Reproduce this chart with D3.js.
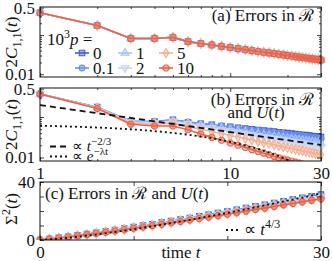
<!DOCTYPE html>
<html>
<head>
<meta charset="utf-8">
<script src="https://d3js.org/d3.v7.min.js"></script>
<style>
  body { margin: 0; background: #fff; }
  text { font-family: "Liberation Serif", serif; fill: #111; }
  .axis line { stroke: #111; stroke-width: 0.8px; }
  .axis text { font-size: 17px; font-family: "Liberation Serif", serif; }
</style>
</head>
<body>
<div id="chart"></div>
<script>
// ---- data ----
var times = [1,2,3,4,5,6,7,8,9,10,11,12,13,14,15,16,17,18,19,20,21,22,23,24,25,26,27,28,29,30];
var timesC = [0,1,2,3,4,5,6,7,8,9,10,11,12,13,14,15,16,17,18,19,20,21,22,23,24,25,26,27,28,29,30];

var pLabels = ["0", "0.1", "1", "2", "5", "10"];
var pColors = ["#3f5fd2", "#6d8fee", "#a3c2fb", "#c8d6ee", "#f6b092", "#e6644c"];
var pShapes = ["square", "circle", "triUp", "triDown", "diamond", "octagon"];

// (a) errors in R only -- all p curves coincide
var errR = [0.37,0.175,0.082,0.082,0.087,0.068,0.061,0.056,0.0515,0.048,0.045,0.0425,0.040,0.038,0.0365,
            0.035,0.0337,0.0323,0.0312,0.0301,0.0292,0.0282,0.0274,0.0267,0.026,0.0253,0.0247,0.0241,0.0236,0.023];

// (b) errors in R and U(t)
var errRU_p0   = [0.37,0.175,0.078,0.077,0.085,0.074,0.068,0.064,0.060,0.057,0.054,0.052,0.050,0.048,0.046,
                  0.045,0.044,0.042,0.041,0.040,0.039,0.038,0.037,0.036,0.036,0.035,0.034,0.033,0.033,0.032];
var errRU_p01  = [0.37,0.174,0.077,0.076,0.084,0.076,0.069,0.064,0.060,0.056,0.053,0.051,0.048,0.046,0.044,
                  0.043,0.041,0.040,0.039,0.037,0.036,0.035,0.035,0.034,0.033,0.032,0.031,0.031,0.030,0.029];
var errRU_p1   = [0.37,0.172,0.076,0.074,0.080,0.070,0.063,0.057,0.053,0.049,0.046,0.043,0.041,0.039,0.037,
                  0.0355,0.034,0.0326,0.0314,0.0303,0.0293,0.0283,0.0274,0.0266,0.0259,0.0252,0.0245,0.0239,0.0233,0.0228];
var errRU_p2   = [0.37,0.170,0.074,0.072,0.078,0.068,0.060,0.054,0.049,0.045,0.042,0.039,0.036,0.034,0.032,
                  0.0305,0.029,0.0277,0.0265,0.0254,0.0244,0.0235,0.0226,0.0218,0.0211,0.0204,0.0197,0.0191,0.0186,0.018];
var errRU_p5   = [0.37,0.166,0.070,0.066,0.070,0.058,0.050,0.044,0.039,0.035,0.032,0.029,0.027,0.025,0.0233,
                  0.0219,0.0206,0.0194,0.0184,0.0175,0.0167,0.0159,0.0152,0.0146,0.014,0.0135,0.013,0.0125,0.0121,0.0117];
var errRU_p10  = [0.37,0.162,0.066,0.060,0.060,0.0485,0.038,0.0315,0.0266,0.0228,0.020,0.0176,0.0157,0.0141,0.0128,
                  0.0117,0.0107,0.0099,0.0092,0.0086,0.0081,0.0077,0.0073,0.0069,0.0065,0.0061,0.0058,0.0055,0.0052,0.0049];

// guide lines in (b)
var powT   = [1, 30];
var powVal = [0.197, 0.0204];          // ∝ t^{-2/3}
var expT   = [1, 5, 10, 15, 20, 25, 30];
var expVal = [0.061, 0.0405, 0.0243, 0.0146, 0.0088, 0.0053, 0.0032]; // ∝ e^{-λt}

// (c) Σ²(t)
var sig_p0  = [0,0.7,1.5,2.3,3.2,4.1,5.0,5.9,6.9,7.9,8.9,9.9,10.9,12.0,13.1,14.1,15.2,16.3,17.4,18.6,19.7,20.8,22.0,23.2,24.3,25.5,26.7,27.9,29.1,30.2,31.3];
var sig_p01 = [0,0.7,1.5,2.3,3.2,4.0,4.9,5.8,6.8,7.8,8.8,9.8,10.7,11.8,12.9,13.9,15.0,16.1,17.1,18.3,19.4,20.5,21.7,22.9,23.9,25.1,26.3,27.5,28.7,29.7,30.8];
var sig_p1  = [0,0.7,1.4,2.2,3.1,4.0,4.8,5.7,6.7,7.6,8.6,9.6,10.5,11.6,12.6,13.6,14.7,15.7,16.8,17.9,19.0,20.1,21.2,22.4,23.4,24.6,25.8,26.9,28.1,29.1,30.2];
var sig_p2  = [0,0.7,1.4,2.2,3.0,3.9,4.7,5.6,6.5,7.5,8.4,9.4,10.3,11.3,12.4,13.3,14.4,15.4,16.4,17.6,18.6,19.7,20.8,21.9,23.0,24.1,25.2,26.4,27.5,28.5,29.6];
var sig_p5  = [0,0.6,1.4,2.1,3.0,3.8,4.6,5.5,6.4,7.3,8.2,9.2,10.1,11.1,12.1,13.0,14.1,15.1,16.1,17.2,18.2,19.2,20.4,21.5,22.5,23.6,24.7,25.8,26.9,27.9,29.0];
var sig_p10 = [0,0.6,1.4,2.1,2.9,3.7,4.5,5.3,6.2,7.1,8.1,9.0,9.9,10.9,11.9,12.8,13.8,14.8,15.7,16.8,17.8,18.8,19.9,21.0,22.0,23.1,24.2,25.2,26.3,27.3,28.3];
var powCT  = [0,2,4,6,8,10,12,14,16,18,20,22,24,26,28,30];
var powCV  = [0,0.87,2.19,3.76,5.52,7.42,9.49,11.7,13.9,16.3,18.7,21.3,23.9,26.6,29.3,32.2]; // ∝ t^{4/3}

var errRU = [errRU_p0, errRU_p01, errRU_p1, errRU_p2, errRU_p5, errRU_p10];
var sigAll = [sig_p0, sig_p01, sig_p1, sig_p2, sig_p5, sig_p10];

// ---- layout ----
var W = 332, H = 261;
var L = 40, R = 321;
var panA = {top: 7, bottom: 77};
var panB = {top: 88, bottom: 161};
var panC = {top: 182, bottom: 240};

var svg = d3.select("#chart").append("svg").attr("width", W).attr("height", H);

var xLog = d3.scaleLog().domain([1, 30]).range([L, R]);
var xLin = d3.scaleLinear().domain([0, 30]).range([L, R]);
var yA = d3.scaleLog().domain([0.0085, 0.52]).range([panA.bottom, panA.top]);
var yB = d3.scaleLog().domain([0.0082, 0.52]).range([panB.bottom, panB.top]);
var yC = d3.scaleLinear().domain([0, 40]).range([panC.bottom, panC.top]);

var xMajor = [1, 10, 30], xMinor = [2,3,4,5,6,7,8,9,20];
var yMajor = [0.01, 0.1, 0.5], yMinor = [0.02,0.03,0.04,0.05,0.06,0.07,0.08,0.09,0.2,0.3,0.4];

function octagon() {
  return {draw: function(ctx, size) {
    var r = Math.sqrt(size / 2.83);
    for (var i = 0; i < 8; i++) {
      var a = Math.PI / 8 + i * Math.PI / 4;
      if (i === 0) ctx.moveTo(r * Math.cos(a), r * Math.sin(a));
      else ctx.lineTo(r * Math.cos(a), r * Math.sin(a));
    }
    ctx.closePath();
  }};
}
function symbolPath(shape) {
  if (shape === "square") return d3.symbol(d3.symbolSquare, 30)();
  if (shape === "circle") return d3.symbol(d3.symbolCircle, 26)();
  if (shape === "triUp" || shape === "triDown") return d3.symbol(d3.symbolTriangle, 26)();
  if (shape === "diamond") return d3.symbol(d3.symbolDiamond, 26)();
  return d3.symbol(octagon(), 30)();
}
function symbolRot(shape) { return shape === "triDown" ? " rotate(180)" : ""; }

function frame(top, bottom) {
  svg.append("rect").attr("x", L).attr("y", top).attr("width", R - L).attr("height", bottom - top)
    .attr("fill", "none").attr("stroke", "#111").attr("stroke-width", 1);
}

function axes(x, y, top, bottom, xmaj, xmin, ymaj, ymin, xfmt, yfmt) {
  var g = svg.append("g").attr("class", "axis");
  g.append("g").attr("transform", "translate(0," + bottom + ")")
    .call(d3.axisBottom(x).tickValues(xmaj).tickSize(-4).tickPadding(6).tickFormat(xfmt));
  g.append("g").attr("transform", "translate(0," + bottom + ")")
    .call(d3.axisBottom(x).tickValues(xmin).tickSize(-2).tickFormat(""));
  g.append("g").attr("transform", "translate(0," + top + ")")
    .call(d3.axisTop(x).tickValues(xmaj).tickSize(-4).tickFormat(""));
  g.append("g").attr("transform", "translate(0," + top + ")")
    .call(d3.axisTop(x).tickValues(xmin).tickSize(-2).tickFormat(""));
  g.append("g").attr("transform", "translate(" + L + ",0)")
    .call(d3.axisLeft(y).tickValues(ymaj).tickSize(-4).tickPadding(5).tickFormat(yfmt));
  g.append("g").attr("transform", "translate(" + L + ",0)")
    .call(d3.axisLeft(y).tickValues(ymin).tickSize(-2).tickFormat(""));
  g.append("g").attr("transform", "translate(" + R + ",0)")
    .call(d3.axisRight(y).tickValues(ymaj).tickSize(-4).tickFormat(""));
  g.append("g").attr("transform", "translate(" + R + ",0)")
    .call(d3.axisRight(y).tickValues(ymin).tickSize(-2).tickFormat(""));
  g.selectAll(".domain").remove();
  return g;
}

function clip(id, top, bottom) {
  svg.append("clipPath").attr("id", id).append("rect")
    .attr("x", 0).attr("y", top).attr("width", W).attr("height", bottom - top);
}

function series(gp, xs, ys, x, y, k) {
  var pts = xs.map(function(t, i) { return [t, ys[i]]; });
  var line = d3.line().x(function(d) { return x(d[0]); }).y(function(d) { return y(d[1]); });
  gp.append("path").attr("d", line(pts)).attr("fill", "none")
    .attr("stroke", pColors[k]).attr("stroke-width", 1.6);
  gp.selectAll(null).data(pts).enter().append("path")
    .attr("d", symbolPath(pShapes[k]))
    .attr("transform", function(d) { return "translate(" + x(d[0]) + "," + y(d[1]) + ")" + symbolRot(pShapes[k]); })
    .attr("fill", pColors[k]).attr("fill-opacity", 0.45)
    .attr("stroke", pColors[k]).attr("stroke-width", 1.1);
}

var logFmt = function(d) { return d === 0.5 ? "0.5" : d === 0.01 ? "0.01" : ""; };

// ---- panel (a) ----
clip("clipA", panA.top, panA.bottom);
var gA = svg.append("g").attr("clip-path", "url(#clipA)");
pLabels.forEach(function(p, k) { series(gA, times, errR, xLog, yA, k); });
axes(xLog, yA, panA.top, panA.bottom, xMajor, xMinor, yMajor, yMinor, "", logFmt);
frame(panA.top, panA.bottom);

// ---- panel (b) ----
clip("clipB", panB.top, panB.bottom);
var gB = svg.append("g").attr("clip-path", "url(#clipB)");
pLabels.forEach(function(p, k) { series(gB, times, errRU[k], xLog, yB, k); });
var lineB = d3.line().x(function(d) { return xLog(d[0]); }).y(function(d) { return yB(d[1]); });
gB.append("path").attr("d", lineB(powT.map(function(t, i) { return [t, powVal[i]]; })))
  .attr("fill", "none").attr("stroke", "#111").attr("stroke-width", 1.8).attr("stroke-dasharray", "6,4");
gB.append("path").attr("d", lineB.curve(d3.curveMonotoneX)(expT.map(function(t, i) { return [t, expVal[i]]; })))
  .attr("fill", "none").attr("stroke", "#111").attr("stroke-width", 1.8).attr("stroke-dasharray", "2,3");
axes(xLog, yB, panB.top, panB.bottom, xMajor, xMinor, yMajor, yMinor, d3.format("d"), logFmt);
frame(panB.top, panB.bottom);

// ---- panel (c) ----
clip("clipC", panC.top, panC.bottom);
var gC = svg.append("g").attr("clip-path", "url(#clipC)");
pLabels.forEach(function(p, k) { series(gC, timesC, sigAll[k], xLin, yC, k); });
var lineC = d3.line().x(function(d) { return xLin(d[0]); }).y(function(d) { return yC(d[1]); }).curve(d3.curveMonotoneX);
gC.append("path").attr("d", lineC(powCT.map(function(t, i) { return [t, powCV[i]]; })))
  .attr("fill", "none").attr("stroke", "#111").attr("stroke-width", 1.8).attr("stroke-dasharray", "2,3");
axes(xLin, yC, panC.top, panC.bottom, [0, 10, 20, 30], [], [0, 10, 20, 30, 40], [],
     function(d) { return d === 0 || d === 30 ? d : ""; },
     function(d) { return d === 0 || d === 40 ? d : ""; });
frame(panC.top, panC.bottom);

// ---- texts ----
// parts: [text, italic, position]; position "sub" / "sup" / "" (baseline)
function mathText(x, y, anchor, size, parts, transform) {
  var t = svg.append("text").attr("font-size", size + "px").attr("text-anchor", anchor);
  if (transform) t.attr("transform", transform); else t.attr("x", x).attr("y", y);
  var cur = 0;
  parts.forEach(function(p) {
    var off = p[2] === "sub" ? 4 : p[2] === "sup" ? -Math.round(size * 0.4) : 0;
    var ts = t.append("tspan").text(p[0]).attr("dy", off - cur);
    cur = off;
    if (p[1]) ts.attr("font-style", "italic");
    if (p[2]) ts.attr("font-size", Math.round(size * 0.7) + "px");
  });
  return t;
}

[ (panA.top + panA.bottom) / 2, (panB.top + panB.bottom) / 2 ].forEach(function(cy) {
  mathText(0, 0, "middle", 17,
    [["2", 0, ""], ["C", 1, ""], ["1,1", 0, "sub"], ["(", 0, ""], ["t", 1, ""], [")", 0, ""]],
    "translate(17," + cy + ") rotate(-90)");
});
mathText(0, 0, "middle", 17, [["Σ", 0, ""], ["2", 0, "sup"], ["(", 0, ""], ["t", 1, ""], [")", 0, ""]],
  "translate(17," + ((panC.top + panC.bottom) / 2 - 2) + ") rotate(-90)");

mathText(314, 21, "end", 17, [["(a) Errors in ℛ", 0, ""]]);
mathText(314, 105, "end", 17, [["(b) Errors in ℛ", 0, ""]]);
mathText(256, 118, "middle", 17, [["and ", 0, ""], ["U", 1, ""], ["(", 0, ""], ["t", 1, ""], [")", 0, ""]]);
mathText(45, 199, "start", 17, [["(c) Errors in ℛ and ", 0, ""], ["U", 1, ""], ["(", 0, ""], ["t", 1, ""], [")", 0, ""]]);
mathText(181, 258, "middle", 17, [["time ", 0, ""], ["t", 1, ""]]);

// legend (a)
mathText(47, 45, "start", 17, [["10", 0, ""], ["3", 0, "sup"], ["p", 1, ""], [" =", 0, ""]]);
var legX = [82, 125, 166], legY = [53, 68];
pLabels.forEach(function(p, k) {
  var cx = legX[Math.floor(k / 2)], cy = legY[k % 2];
  svg.append("line").attr("x1", cx - 7).attr("x2", cx + 7).attr("y1", cy).attr("y2", cy)
    .attr("stroke", pColors[k]).attr("stroke-width", 1.6);
  svg.append("path").attr("d", symbolPath(pShapes[k]))
    .attr("transform", "translate(" + cx + "," + cy + ")" + symbolRot(pShapes[k]))
    .attr("fill", pColors[k]).attr("fill-opacity", 0.45).attr("stroke", pColors[k]).attr("stroke-width", 1.1);
  svg.append("text").attr("x", cx + 11).attr("y", cy + 6).attr("font-size", "17px").text(p);
});

// legend (b)
svg.append("line").attr("x1", 50).attr("x2", 67).attr("y1", 146.5).attr("y2", 146.5)
  .attr("stroke", "#111").attr("stroke-width", 1.8).attr("stroke-dasharray", "6,4");
mathText(72, 150.5, "start", 15, [["∝ ", 0, ""], ["t", 1, ""], ["−2/3", 0, "sup"]]);
svg.append("line").attr("x1", 50).attr("x2", 67).attr("y1", 156.5).attr("y2", 156.5)
  .attr("stroke", "#111").attr("stroke-width", 1.8).attr("stroke-dasharray", "2,3");
mathText(72, 160.5, "start", 15, [["∝ ", 0, ""], ["e", 1, ""], ["−λt", 0, "sup"]]);

// legend (c)
svg.append("line").attr("x1", 226).attr("x2", 239).attr("y1", 230).attr("y2", 230)
  .attr("stroke", "#111").attr("stroke-width", 1.8).attr("stroke-dasharray", "2,3");
mathText(244, 235, "start", 17, [["∝ ", 0, ""], ["t", 1, ""], ["4/3", 0, "sup"]]);
</script>
</body>
</html>
